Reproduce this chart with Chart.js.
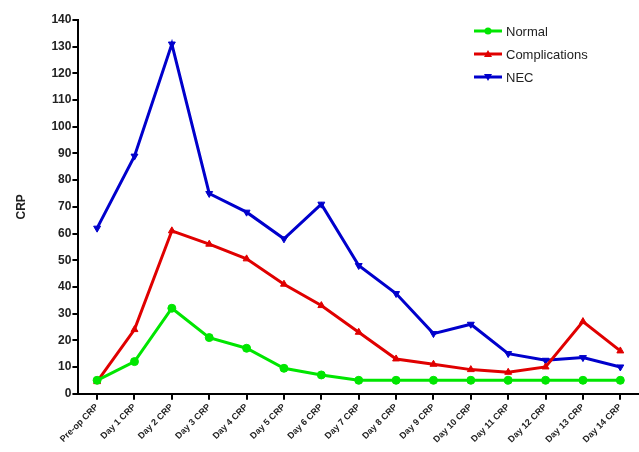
<!DOCTYPE html>
<html>
<head>
<meta charset="utf-8">
<script src="https://cdn.jsdelivr.net/npm/chart.js@4/dist/chart.umd.min.js"></script>
<style>
  html, body { margin:0; padding:0; background:#fff; }
  #wrap { width:639px; height:452px; }
</style>
</head>
<body>
<div id="wrap"><canvas id="c" width="639" height="452"></canvas></div>
<script>
"use strict";

const DAYS = ['Pre-op CRP','Day 1 CRP','Day 2 CRP','Day 3 CRP','Day 4 CRP','Day 5 CRP','Day 6 CRP',
              'Day 7 CRP','Day 8 CRP','Day 9 CRP','Day 10 CRP','Day 11 CRP','Day 12 CRP','Day 13 CRP','Day 14 CRP'];
const NORMAL        = [5, 12, 32, 21, 17, 9.5, 7, 5, 5, 5, 5, 5, 5, 5, 5];
const COMPLICATIONS = [4.5, 24, 61, 56, 50.5, 41, 33, 23, 13, 11, 9, 8, 10, 27, 16];
const NEC           = [62, 89, 131, 75, 68, 58, 71, 48, 37.5, 22.5, 26, 15, 12.5, 13.5, 10];
const Y_MAX = 140, Y_STEP = 10;

const FONT = "'Liberation Sans', Arial, Helvetica, sans-serif";
Chart.defaults.font.family = FONT;
Chart.defaults.color = '#000';

const series = (label, data, color, style, rot) => ({
  label, data, borderColor: color, backgroundColor: color, borderWidth: 3,
  pointStyle: style, pointRotation: rot, pointRadius: 4, pointBorderWidth: 1,
  tension: 0, fill: false,
});

// legend drawn in the top-right corner: short line with the marker in its middle
const sideLegend = {
  id: 'sideLegend',
  afterDraw(chart) {
    const ctx = chart.ctx;
    ctx.save();
    chart.data.datasets.forEach((ds, i) => {
      const y = 31 + i * 23, x0 = 474, x1 = 502, xm = (x0 + x1) / 2;
      ctx.strokeStyle = ds.borderColor; ctx.lineWidth = 3;
      ctx.beginPath(); ctx.moveTo(x0, y); ctx.lineTo(x1, y); ctx.stroke();
      ctx.fillStyle = ds.borderColor;
      ctx.beginPath();
      if (ds.pointStyle === 'circle') ctx.arc(xm, y, 3.5, 0, Math.PI * 2);
      else {
        const d = ds.pointRotation ? -1 : 1;
        ctx.moveTo(xm, y - 4 * d); ctx.lineTo(xm + 4, y + 3 * d); ctx.lineTo(xm - 4, y + 3 * d);
        ctx.closePath();
      }
      ctx.fill();
      ctx.fillStyle = '#222'; ctx.font = '13px ' + FONT; ctx.textBaseline = 'middle';
      ctx.fillText(ds.label, 506, y + 1);
    });
    ctx.restore();
  }
};

new Chart(document.getElementById('c'), {
  type: 'line',
  data: {
    labels: DAYS,
    datasets: [
      series('Normal', NORMAL, '#00e600', 'circle', 0),
      series('Complications', COMPLICATIONS, '#e00000', 'triangle', 0),
      series('NEC', NEC, '#0000cc', 'triangle', 180),
    ],
  },
  options: {
    responsive: false, animation: false, devicePixelRatio: 1,
    layout: { autoPadding: false, padding: { top: 20, right: 0, left: 10, bottom: 5 } },
    plugins: { legend: { display: false }, tooltip: { enabled: false } },
    scales: {
      x: {
        offset: true,
        afterFit(s) { s.paddingRight = 0; },   // let the axis run to the canvas edge
        border: { color: '#000', width: 2 },
        grid: { offset: false, drawOnChartArea: false, drawTicks: true, tickLength: 6, color: '#000', lineWidth: 2 },
        ticks: { autoSkip: false, maxRotation: 45, minRotation: 45, font: { size: 9, weight: 'bold' }, color: '#222', padding: 2 },
      },
      y: {
        min: 0, max: Y_MAX,
        border: { color: '#000', width: 2 },
        grid: { drawOnChartArea: false, drawTicks: true, tickLength: 6, color: '#000', lineWidth: 2 },
        ticks: { stepSize: Y_STEP, font: { size: 12, weight: 'bold' }, color: '#222', padding: 1 },
        title: { display: true, text: 'CRP', font: { size: 12, weight: 'bold' }, color: '#222', padding: { bottom: 22 } },
      },
    },
  },
  plugins: [sideLegend],
});
</script>
</body>
</html>
